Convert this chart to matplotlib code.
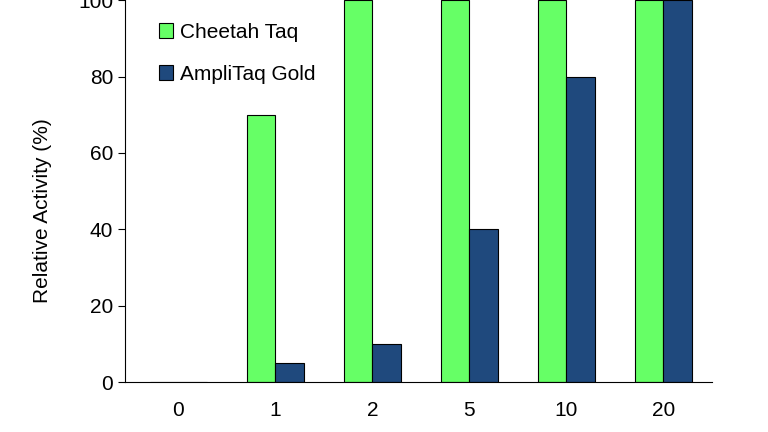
import matplotlib
matplotlib.use("Agg")
import matplotlib.pyplot as plt
import numpy as np

categories = ["0", "1", "2", "5", "10", "20"]
cheetah = [0, 70, 100, 100, 100, 100]
ampli = [0, 5, 10, 40, 80, 100]

plt.rcParams['font.family'] = ['Liberation Sans', 'DejaVu Sans']
fig = plt.figure(figsize=(7.68, 4.32), dpi=100)
ax = fig.add_axes([125/768, 50/432, (712-125)/768, 458/432])
x = np.arange(len(categories))
w = 0.29
ax.bar(x - w/2, cheetah, w, color="#66FF66", edgecolor="black", linewidth=0.8, label="Cheetah Taq")
ax.bar(x + w/2, ampli, w, color="#1F497D", edgecolor="black", linewidth=0.8, label="AmpliTaq Gold")
ax.set_xlim(-0.55, 5.5)
ax.set_ylim(0, 120)
ax.set_yticks([0, 20, 40, 60, 80, 100])
ax.set_xticks(x)
ax.set_xticklabels(categories)
ax.tick_params(axis='x', length=0, pad=14, labelsize=15)
ax.tick_params(axis='y', direction='out', length=5, labelsize=15)
for s in ["top", "right"]:
    ax.spines[s].set_visible(False)
ax.set_ylabel("Relative Activity (%)", fontsize=15)
ax.yaxis.set_label_coords(-0.124, 0.375)
fig.legend(loc="upper left", bbox_to_anchor=(140/768, 1 - 4/432), frameon=False,
           fontsize=15, handlelength=0.7, handleheight=0.7, handletextpad=0.3, labelspacing=1.1)
fig.savefig("out.png", dpi=100)
